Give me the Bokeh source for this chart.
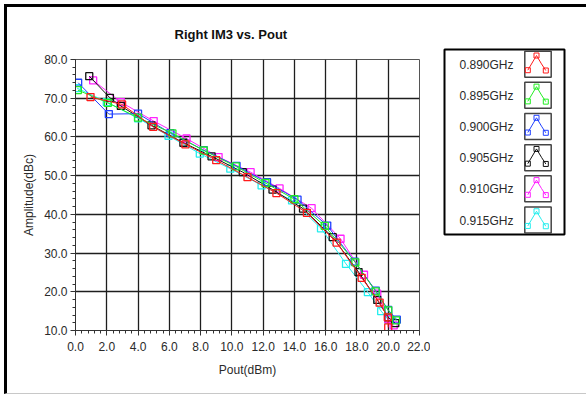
import numpy as np
from bokeh.plotting import figure
from bokeh.models import Range1d, FixedTicker, Row
from bokeh.embed import file_html
from bokeh.resources import INLINE
from bokeh.core.properties import value

# ---------------- data ----------------
title_text = "Right IM3 vs. Pout"
x_label = "Pout(dBm)"
y_label = "Amplitude(dBc)"

x_ticks = [0, 2, 4, 6, 8, 10, 12, 14, 16, 18, 20, 22]
x_tick_labels = ["0.0", "2.0", "4.0", "6.0", "8.0", "10.0", "12.0", "14.0", "16.0", "18.0", "20.0", "22.0"]
y_ticks = [10, 20, 30, 40, 50, 60, 70, 80]
y_tick_labels = ["10.0", "20.0", "30.0", "40.0", "50.0", "60.0", "70.0", "80.0"]

series_names = ["0.890GHz", "0.895GHz", "0.900GHz", "0.905GHz", "0.910GHz", "0.915GHz"]
series_colors = ["#ff1a1a", "#22ee22", "#1f3fff", "#111111", "#ff22ff", "#22eeee"]

red_x = [0.96, 2.98, 4.97, 7.03, 9.0, 11.0, 12.85, 14.8, 16.7, 18.3, 19.45, 19.97, 20.0]
red_y = [70.3, 68.4, 62.6, 58.1, 54.0, 49.6, 45.5, 40.4, 32.7, 23.6, 17.2, 13.4, 10.8]

green_x = [0.15, 2.07, 4.0, 6.2, 8.2, 10.25, 12.15, 14.0, 15.94, 17.9, 19.2, 20.0, 20.5]
green_y = [72.1, 68.8, 65.0, 60.9, 56.5, 52.4, 48.1, 43.9, 37.0, 27.6, 20.1, 15.2, 12.6]

blue_x = [0.17, 2.13, 4.0, 6.07, 8.2, 10.3, 12.25, 14.2, 16.1, 17.85, 19.2, 20.0, 20.55]
blue_y = [74.0, 65.9, 66.0, 61.0, 56.6, 52.5, 48.3, 43.8, 37.1, 27.8, 20.3, 15.3, 12.8]

black_x = [0.88, 2.2, 2.9, 4.86, 6.9, 8.7, 10.7, 12.6, 14.55, 16.45, 18.1, 19.3, 20.0, 20.45]
black_y = [75.7, 70.1, 68.0, 63.0, 58.5, 55.0, 50.9, 46.4, 41.5, 34.1, 25.1, 17.9, 13.4, 11.9]

magenta_x = [1.13, 2.9, 5.0, 7.1, 9.15, 11.2, 13.05, 15.1, 16.95, 18.45, 19.3, 20.0, 20.35]
magenta_y = [74.6, 69.0, 64.1, 59.6, 54.8, 50.9, 46.7, 41.6, 33.7, 24.4, 19.5, 13.0, 11.3]

cyan_x = [0.1, 2.0, 4.0, 5.95, 7.95, 9.9, 11.9, 13.85, 15.7, 17.3, 18.7, 19.55, 20.0]
cyan_y = [72.6, 69.0, 64.8, 60.3, 55.7, 51.8, 47.5, 43.6, 36.4, 27.2, 19.9, 15.0, 12.8]

series_x = [red_x, green_x, blue_x, black_x, magenta_x, cyan_x]
series_y = [red_y, green_y, blue_y, black_y, magenta_y, cyan_y]
draw_order = [5, 4, 3, 2, 1, 0]

FONT = "Liberation Sans"
TXT = "#2a2a2a"

# ---------------- main chart ----------------
p = figure(width=423, height=386,
           x_range=Range1d(0, 22), y_range=Range1d(10, 80),
           output_backend="svg", toolbar_location=None,
           min_border_left=68, min_border_right=11,
           min_border_top=52, min_border_bottom=63,
           title=title_text)
p.frame_align = False
p.background_fill_color = "white"
p.border_fill_color = "white"
p.outline_line_color = "#555555"
p.outline_line_width = 1

p.title.text_font = FONT
p.title.text_font_size = "13px"
p.title.text_font_style = "bold"
p.title.text_color = "#111111"
p.title.align = "left"
p.title.offset = 99
p.title.standoff = 35

xt = FixedTicker(ticks=x_ticks, minor_ticks=list(np.round(np.arange(0, 22.01, 0.4), 2)))
yt = FixedTicker(ticks=y_ticks, minor_ticks=list(np.arange(10, 80.1, 2)))
p.xaxis.ticker = xt
p.yaxis.ticker = yt
p.xaxis.major_label_overrides = dict(zip(x_ticks, x_tick_labels))
p.yaxis.major_label_overrides = dict(zip(y_ticks, y_tick_labels))
p.xaxis.axis_label = x_label
p.yaxis.axis_label = y_label

for ax in (p.xaxis, p.yaxis):
    ax.axis_line_color = "#333333"
    ax.major_tick_line_color = "#333333"
    ax.minor_tick_line_color = "#333333"
    ax.major_tick_out = 5
    ax.major_tick_in = 0
    ax.minor_tick_out = 3
    ax.minor_tick_in = 0
    ax.major_label_text_font = FONT
    ax.major_label_text_font_size = "12px"
    ax.major_label_text_color = TXT
    ax.axis_label_text_font = FONT
    ax.axis_label_text_font_size = "12px"
    ax.axis_label_text_font_style = "normal"
    ax.axis_label_text_color = TXT
p.xaxis.major_label_standoff = 6
p.xaxis.axis_label_standoff = 9
p.yaxis.major_label_standoff = 3
p.yaxis.axis_label_standoff = 5

p.xgrid.ticker = FixedTicker(ticks=x_ticks)
p.ygrid.ticker = FixedTicker(ticks=y_ticks)
for g in (p.xgrid, p.ygrid):
    g.grid_line_color = "#1e1e1e"
    g.grid_line_width = 1.3

for i in draw_order:
    c = series_colors[i]
    p.line(series_x[i], series_y[i], line_color=c, line_width=1)
    p.scatter(series_x[i], series_y[i], marker="square", size=7,
              line_color=c, line_width=1.3, fill_color=None)

# ---------------- legend panel ----------------
lf = figure(width=156, height=386,
            x_range=Range1d(0, 156), y_range=Range1d(386, 0),
            x_axis_type=None, y_axis_type=None,
            output_backend="svg", toolbar_location=None, min_border=0)
lf.frame_align = False
lf.outline_line_color = None
lf.background_fill_color = "white"
lf.border_fill_color = "white"

lf.quad(left=[14], right=[134], top=[42], bottom=[227],
        fill_color="white", line_color="black", line_width=2)

n = len(series_names)
step = 31.15
label_y = [57.3 + k * step for k in range(n)]
lf.text(x=[83] * n, y=label_y, text=series_names,
        text_align="right", text_baseline="middle",
        text_font=value(FONT), text_font_size="12px", text_color=TXT)

box_l, box_w, box_h = 94.3, 26.4, 26
box_top = [43.7 + k * step for k in range(n)]
lf.quad(left=[box_l] * n, right=[box_l + box_w] * n,
        top=box_top, bottom=[t + box_h for t in box_top],
        fill_color="white", line_color="#444444", line_width=1.5)

icon_rel = [(3, 19), (11.7, 4.3), (16.7, 12.7), (21, 19.3)]
mark_rel = [(3, 19), (11.7, 4.3), (21, 19.3)]
xs, ys, mx, my, mc = [], [], [], [], []
for k in range(n):
    xs.append([box_l + a for a, b in icon_rel])
    ys.append([box_top[k] + b for a, b in icon_rel])
    for a, b in mark_rel:
        mx.append(box_l + a)
        my.append(box_top[k] + b)
        mc.append(series_colors[k])
lf.multi_line(xs, ys, line_color=series_colors, line_width=1)
lf.scatter(mx, my, marker="square", size=5, line_color=mc, fill_color=None, line_width=1)

layout = Row(children=[p, lf],
             styles={"border-left": "3px solid black",
                     "border-top": "3px solid black",
                     "border-bottom": "1px solid #c8c8c8",
                     "margin-left": "4px", "margin-top": "4px"})

open("out.html", "w").write(file_html(layout, INLINE))
